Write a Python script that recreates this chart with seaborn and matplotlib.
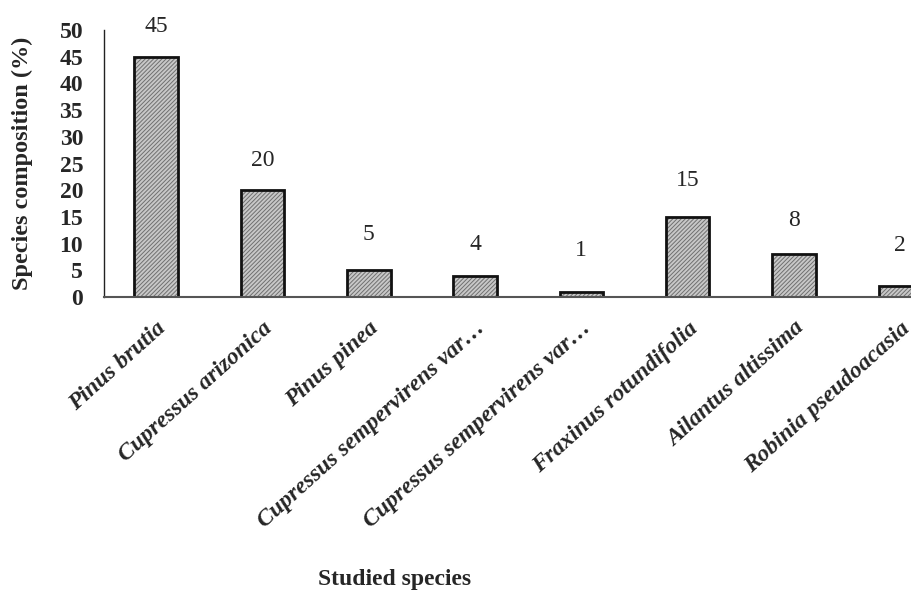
import matplotlib
matplotlib.use("Agg")
import matplotlib.pyplot as plt
import seaborn as sns
import pandas as pd

species = ["Pinus brutia", "Cupressus arizonica", "Pinus pinea",
           "Cupressus sempervirens var…", "Cupressus sempervirens var…",
           "Fraxinus rotundifolia", "Ailantus altissima", "Robinia pseudoacasia"]
composition = [45, 20, 5, 4, 1, 15, 8, 2]
yticks = [0, 5, 10, 15, 20, 25, 30, 35, 40, 45, 50]

# vertical lift of each value label above its bar, in points
label_lift = [14, 14, 18, 15, 22, 19, 17, 22]

sns.set_theme(style="white")
plt.rcParams["font.family"] = ["Liberation Serif", "DejaVu Serif"]
plt.rcParams["hatch.linewidth"] = 0.7

df = pd.DataFrame({"pos": range(len(species)), "value": composition})

fig = plt.figure(figsize=(9.12, 5.93), dpi=100)
ax = fig.add_axes([104 / 912, 1 - 297 / 593, (912 - 104) / 912, 267 / 593])

# hatched fill
sns.barplot(data=df, x="pos", y="value", ax=ax, width=0.41, native_scale=True,
            color="#c8c8c8", saturation=1, edgecolor="#707070", linewidth=0,
            hatch="////////")
# dark outline on top
sns.barplot(data=df, x="pos", y="value", ax=ax, width=0.41, native_scale=True,
            fill=False, edgecolor="#111111", linewidth=2.0)

for i, (v, lift) in enumerate(zip(composition, label_lift)):
    ax.annotate(f"{v}", (i, v), xytext=(0, lift), textcoords="offset points",
                ha="center", va="bottom", fontsize=17, clip_on=False,
                annotation_clip=False)

ax.set_xlim(-0.49, 7.11)
ax.set_ylim(0, 50)
ax.set_yticks(yticks)
ax.set_yticklabels([str(t) for t in yticks], fontsize=17, fontweight="bold")
ax.set_xticks(range(len(species)))
ax.set_xticklabels(species, rotation=42, ha="right", rotation_mode="anchor",
                   fontsize=17, fontweight="bold", fontstyle="italic")
ax.tick_params(axis="y", length=0, pad=15)
ax.tick_params(axis="x", length=0, pad=15)

for s in ["top", "right"]:
    ax.spines[s].set_visible(False)
ax.spines["left"].set_color("#222222")
ax.spines["left"].set_linewidth(1.0)
ax.spines["bottom"].set_color("#555555")
ax.spines["bottom"].set_linewidth(1.5)

ax.set_xlabel("")
ax.set_ylabel("Species composition (%)", fontsize=17.5, fontweight="bold", labelpad=19)
fig.text(395 / 912, 1 - 580 / 593, "Studied species", ha="center", va="center",
         fontsize=17, fontweight="bold")

fig.savefig("out.png", dpi=100)
